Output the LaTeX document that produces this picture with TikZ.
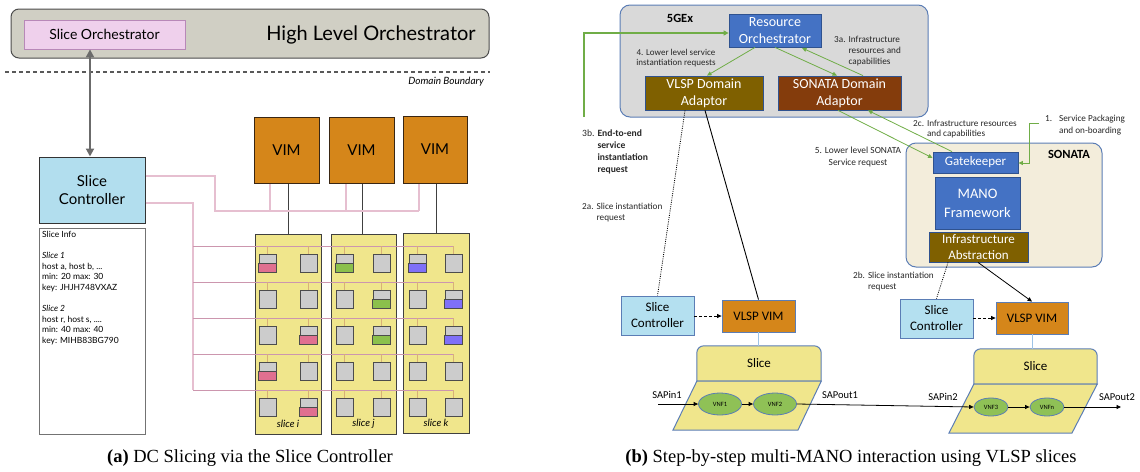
\documentclass[tikz,border=0pt]{standalone}
\usepackage{fontspec}
\setmainfont{Liberation Serif}
\newfontfamily\gillf{Lato}
\newfontfamily\calf{Carlito}
\usetikzlibrary{arrows.meta,shapes.geometric}
\newcommand{\fsz}[2]{\fontsize{#1}{#2}\selectfont}

\definecolor{hlogray}{HTML}{D0CFC4}
\definecolor{sopink}{HTML}{EFD0EC}
\definecolor{sopinkb}{HTML}{B888B8}
\definecolor{scblue}{HTML}{B2DEEE}
\definecolor{vimor}{HTML}{D5861A}
\definecolor{khaki}{HTML}{F0E68C}
\definecolor{hostgray}{HTML}{CCCCCC}
\definecolor{slpink}{HTML}{E07090}
\definecolor{slgreen}{HTML}{8BC04C}
\definecolor{slpurple}{HTML}{7F70F8}
\definecolor{trunkpink}{HTML}{E6BFD0}
\definecolor{buspink}{HTML}{CC96AE}
\definecolor{stubtan}{HTML}{D8B078}
\definecolor{gexgray}{HTML}{D9D9D9}
\definecolor{frameblue}{HTML}{5B7DB5}
\definecolor{msblue}{HTML}{4472C4}
\definecolor{msblueb}{HTML}{2F528F}
\definecolor{olive}{HTML}{7F6000}
\definecolor{rust}{HTML}{843C0C}
\definecolor{sonbeige}{HTML}{F3EDDB}
\definecolor{msgreen}{HTML}{70AD47}
\definecolor{vnfgreen}{HTML}{8FC156}
\definecolor{sliceyel}{HTML}{F0E68C}
\definecolor{linkblue}{HTML}{9DC3E6}
\definecolor{scblueb}{HTML}{B4E0F0}

\tikzset{
  hostbox/.style={draw=black!70, fill=hostgray, line width=0.8pt, minimum width=17pt, minimum height=18pt, inner sep=0pt},
  colbox/.style={draw=black!75, fill=khaki, line width=1pt, inner sep=0pt},
  vimbox/.style={draw=black!70!brown, fill=vimor, line width=1pt, inner sep=0pt, minimum width=65pt, minimum height=66pt, font=\gillf\fsz{15}{18}},
  trunk/.style={draw=trunkpink, line width=1.1pt},
  busline/.style={draw=buspink, line width=0.8pt},
  stubline/.style={draw=stubtan, line width=0.9pt},
  msbox/.style={draw=msblueb, line width=0.8pt, text=white, align=center, inner sep=0pt, font=\calf\fsz{14}{17}},
  lbl/.style={font=\calf\fsz{9.2}{11}, inner sep=0pt, text=black!85},
  garrow/.style={draw=msgreen, line width=0.8pt, -{Triangle[length=4.5pt,width=4pt]}},
  darrow/.style={draw=black, line width=0.8pt, dash pattern=on 3pt off 2pt, -{Triangle[length=4.5pt,width=4pt]}},
  dotline/.style={draw=black, line width=0.8pt, dash pattern=on 1pt off 1.2pt},
  flowarrow/.style={draw=black, line width=0.8pt, -{Triangle[length=4.5pt,width=4pt]}},
  slicefill/.style={draw=frameblue, fill=sliceyel, line width=1pt},
  vnf/.style={ellipse, draw=frameblue, fill=vnfgreen, line width=0.8pt, inner sep=0pt, font=\calf\fsz{6.5}{8}},
  bsc/.style={draw=frameblue, fill=scblueb, line width=0.8pt, align=center, inner sep=0pt, font=\calf\fsz{13}{16}, minimum width=73pt, minimum height=39pt},
  bvim/.style={draw=frameblue, fill=vimor, line width=0.8pt, inner sep=0pt, font=\calf\fsz{13}{16}, minimum width=73pt, minimum height=32pt},
}

\begin{document}
\begin{tikzpicture}[x=1pt,y=-1pt]
\useasboundingbox (0,0) rectangle (1140,471);

% ================= (a) DC slicing =================
\node[draw=black!70, fill=hlogray, rounded corners=8pt, line width=1pt, minimum width=478pt, minimum height=49pt] (hlo) at (250,33.5) {};
\node[font=\gillf\fsz{20}{23}] (hlot) at (371,35) {High Level Orchestrator};
\node[draw=sopinkb, fill=sopink, line width=0.8pt, minimum width=161pt, minimum height=29pt, font=\gillf\fsz{14}{16}] (so) at (104.5,34.5) {Slice Orchestrator};

% domain boundary
\coordinate (db1) at (5,72);
\coordinate (db2) at (490,72);
\draw[draw=black!65, line width=1.2pt, dash pattern=on 4pt off 3pt] (db1) -- (db2);
\node[font=\gillf\itshape\fsz{10}{12}, anchor=east, inner sep=0pt] (dbt) at (484,82) {Domain Boundary};

% slice controller and info
\node[draw=black!80, fill=scblue, line width=1pt, minimum width=106pt, minimum height=66pt, align=center, font=\gillf\fsz{15}{18.5}] (sc) at (92,190) {Slice\\Controller};
\node[draw=black!55, fill=white, line width=1pt, minimum width=106pt, minimum height=206pt] (info) at (92,331) {};
\node[anchor=north west, inner sep=0pt, align=left, font=\gillf\fsz{8.5}{10.6}] (infot) at (42,231)
  {Slice Info\\[10.6pt]\textit{Slice 1}\\host a, host b, ...\\min: 20 max: 30\\key: JHJH748VXAZ\\[10.6pt]\textit{Slice 2}\\host r, host s, ....\\min: 40 max: 40\\key: MIHB83BG790};

\draw[draw=black!58, line width=2.5pt, {Triangle[length=8pt,width=8pt]}-{Triangle[length=8pt,width=8pt]}] (so.south -| 90,0) -- (sc.north -| 90,0);

% slice columns
\node[colbox, minimum width=66pt, minimum height=200pt] (col1) at (288,334) {};
\node[colbox, minimum width=65pt, minimum height=200pt] (col2) at (363.5,334) {};
\node[colbox, minimum width=66pt, minimum height=200pt] (col3) at (436,333) {};

% VIMs
\node[vimbox] (vim1) at (286.5,150) {VIM};
\node[vimbox] (vim2) at (361.5,150) {VIM};
\node[vimbox, minimum width=64pt, minimum height=67pt] (vim3) at (435,149.5) {VIM};

% VIM to slice column links
\draw[draw=black!75, line width=1pt] (col1.north) -- (col1.north |- vim1.south);
\draw[draw=black!75, line width=1pt] (col2.north -| 362,0) -- (vim2.south -| 362,0);
\draw[draw=black!75, line width=1pt] (col3.north) -- (col3.north |- vim3.south);

% controller to VIMs
\coordinate (ta) at (215,211);
\draw[trunk] (sc.east |- 0,176) -- (215,176) -- (ta) -- (419,211);
\draw[trunk] (270,211) -- (vim1.south -| 270,0);
\draw[trunk] (346,211) -- (vim2.south -| 346,0);
\draw[trunk] (419,211) -- (vim3.south -| 419,0);

% controller to hosts
\coordinate (tb) at (193,390);
\draw[trunk] (sc.east |- 0,203) -- (193,203) -- (tb);
\foreach \yy in {246,282,318,354,390}
  \draw[busline] (193,\yy) -- (453.5,\yy);

% hosts
\foreach \ci/\xa/\xb in {1/267.5/308.5, 2/344.5/381.5, 3/417.5/453.5} {
  \foreach \ri/\yy in {1/263,2/299,3/335,4/371,5/407} {
    \draw[stubline] (\xa,\yy-9) -- ++(0,-8);
    \draw[stubline] (\xb,\yy-9) -- ++(0,-8);
    \node[hostbox] (h\ci\ri a) at (\xa,\yy) {};
    \node[hostbox] (h\ci\ri b) at (\xb,\yy) {};
  }
}
\foreach \hn/\hc in {h11a/slpink, h13b/slpink, h14a/slpink, h15b/slpink,
                     h21a/slgreen, h22b/slgreen, h23b/slgreen,
                     h31a/slpurple, h32b/slpurple, h33b/slpurple}
  \filldraw[fill=\hc, draw=black!70, line width=0.8pt] (\hn.south west) rectangle ([yshift=-0.5pt]\hn.east);

\node[font=\gillf\itshape\fsz{10}{12}] (li) at (288,424) {slice i};
\node[font=\gillf\itshape\fsz{10}{12}] (lj) at (363.5,424) {slice j};
\node[font=\gillf\itshape\fsz{10}{12}] (lk) at (436,423) {slice k};

% ================= (b) multi-MANO =================
\node[draw=frameblue, fill=gexgray, rounded corners=10pt, line width=1pt, minimum width=308pt, minimum height=112pt] (gex) at (774,61) {};
\node[font=\calf\bfseries\fsz{12.5}{14}] (gext) at (680,18) {5GEx};

\node[draw=frameblue, fill=sonbeige, rounded corners=10pt, line width=1pt, minimum width=196pt, minimum height=124pt] (son) at (1004,205) {};
\node[font=\calf\bfseries\fsz{12.5}{14}] (sont) at (1069,154) {SONATA};

\node[msbox, fill=msblue, minimum width=92pt, minimum height=33pt] (ro) at (775,30.5) {Resource\\Orchestrator};
\node[msbox, fill=olive, minimum width=118pt, minimum height=34pt] (vda) at (704,93) {VLSP Domain\\Adaptor};
\node[msbox, fill=rust, minimum width=123pt, minimum height=34pt] (sda) at (839.5,93) {SONATA Domain\\Adaptor};

\node[msbox, fill=msblue, minimum width=85pt, minimum height=21pt, font=\calf\fsz{13}{15}] (gk) at (975.5,162.5) {Gatekeeper};
\node[msbox, fill=msblue, minimum width=85pt, minimum height=52pt, font=\calf\fsz{14.5}{19}] (mano) at (977.5,203) {MANO\\Framework};
\node[msbox, fill=olive, minimum width=99pt, minimum height=30pt, font=\calf\fsz{13}{16}] (ia) at (978.5,247) {Infrastructure\\Abstraction};

% green request arrows inside 5GEx
\draw[garrow] (ro.south -| 755,0) -- (vda.north -| 707,0);
\draw[garrow] (ro.south -| 775,0) -- (sda.north -| 837,0);
\draw[garrow] (sda.north -| 863,0) -- (802,48);
\draw[draw=msgreen, line width=1.5pt, -{Triangle[length=5pt,width=5pt]}] (584,117) -- (584,33) -- (ro.west |- 0,33);

% green arrows between SONATA adaptor and gatekeeper
\draw[garrow] (sda.south -| 838,0) -- (gk.west |- 0,158);
\draw[garrow] (gk.north -| 952,0) -- (sda.south -| 868,0);
\coordinate (s1) at (1039,123);
\draw[garrow] (s1) -- (1029,123) -- (1029,163) -- (gk.east |- 0,163);

% labels
\node[lbl, align=center, font=\calf\fsz{9}{10.5}] (l4) at (676,58) {4. Lower level service\\instantiation requests};
\node[lbl, anchor=north west] (l3a) at (834,34.5) {\begin{tabular}{@{}l@{\hspace{3pt}}l@{}}3a.&Infrastructure\\&resources and\\&capabilities\end{tabular}};
\node[lbl, anchor=north west, font=\calf\fsz{9.6}{12}] (l3b) at (582,127.5) {\begin{tabular}{@{}l@{\hspace{3pt}}l@{}}3b.&\textbf{End-to-end}\\&\textbf{service}\\&\textbf{instantiation}\\&\textbf{request}\end{tabular}};
\node[lbl, anchor=north west] (l2a) at (582,201.5) {\begin{tabular}{@{}l@{\hspace{3pt}}l@{}}2a.&Slice instantiation\\&request\end{tabular}};
\node[lbl, anchor=north west] (l2b) at (853,270.5) {\begin{tabular}{@{}l@{\hspace{3pt}}l@{}}2b.&Slice instantiation\\&request\end{tabular}};
\node[lbl, anchor=north west, font=\calf\fsz{9.2}{10.5}] (l2c) at (913,118.5) {\begin{tabular}{@{}l@{\hspace{3pt}}l@{}}2c.&Infrastructure resources\\&and capabilities\end{tabular}};
\node[lbl, align=center, font=\calf\fsz{9.4}{12}] (l5) at (858,157) {5. Lower level SONATA\\Service request};
\node[lbl, anchor=north west, font=\calf\fsz{9.2}{12}] (l1) at (1045,112.5) {\begin{tabular}{@{}l@{\hspace{7pt}}l@{}}1.&Service Packaging\\&and on-boarding\end{tabular}};

% left VLSP site
\node[bsc] (sca) at (657.5,315.5) {Slice\\Controller};
\node[bvim] (vima) at (758.5,316) {VLSP VIM};
\draw[dotline] (vda.south -| 685,0) -- (sca.north);
\draw[draw=black, line width=0.9pt] (vda.south -| 705,0) -- (vima.north);
\draw[darrow] (sca.east |- vima.center) -- (vima.west);

\node[minimum width=124pt, minimum height=35pt, inner sep=0pt] (sla) at (759,363.5) {};
\filldraw[slicefill] (sla.south west) [rounded corners=7pt]-- (sla.north west) -- (sla.north east) [sharp corners]-- (sla.south east) -- cycle;
\node[font=\calf\fsz{13}{16}] (slat) at (sla.center) {Slice};
\draw[draw=linkblue, line width=1pt] (vima.south) -- (vima.south |- sla.north);
\coordinate (pa1) at (673,430);
\coordinate (pa2) at (798,430);
\filldraw[slicefill] (pa1) -- (sla.south west) -- (sla.south east) -- (pa2) -- cycle;

% right VLSP site
\node[bsc] (scb) at (936.5,318.5) {Slice\\Controller};
\node[bvim, minimum width=72pt] (vimb) at (1032,318) {VLSP VIM};
\draw[dotline] (ia.south -| 948,0) -- (scb.north);
\draw[flowarrow] (ia.south -| 978,0) -- (vimb.north);
\draw[darrow] (scb.east |- vimb.center) -- (vimb.west);

\node[minimum width=123pt, minimum height=35pt, inner sep=0pt] (slb) at (1035.5,366.5) {};
\filldraw[slicefill] (slb.south west) [rounded corners=7pt]-- (slb.north west) -- (slb.north east) [sharp corners]-- (slb.south east) -- cycle;
\node[font=\calf\fsz{13}{16}] (slbt) at (slb.center) {Slice};
\draw[draw=linkblue, line width=1pt] (vimb.south) -- (vimb.south |- slb.north);
\coordinate (pb1) at (949,433);
\coordinate (pb2) at (1072,433);
\filldraw[slicefill] (pb1) -- (slb.south west) -- (slb.south east) -- (pb2) -- cycle;

% VNF chains
\node[vnf, minimum width=43pt, minimum height=22pt] (vnf1) at (720,404) {VNF1};
\node[vnf, minimum width=43pt, minimum height=22pt] (vnf2) at (775,404) {VNF2};
\node[vnf, minimum width=34pt, minimum height=18pt] (vnf3) at (991,407) {VNF3};
\node[vnf, minimum width=34pt, minimum height=18pt] (vnfn) at (1047,407) {VNFn};

\coordinate (sapin1) at (658,404);
\coordinate (sapout2) at (1121,407);
\draw[flowarrow] (sapin1) -- (vnf1.west);
\draw[flowarrow] (vnf1.east) -- (vnf2.west);
\draw[flowarrow] (vnf2.east) -- (vnf3.west);
\draw[flowarrow] (vnf3.east) -- (vnfn.west);
\draw[flowarrow] (vnfn.east) -- (sapout2);

\node[font=\calf\fsz{10.5}{12}] (tin1) at (667,395) {SAPin1};
\node[font=\calf\fsz{10.5}{12}] (tout1) at (840,395) {SAPout1};
\node[font=\calf\fsz{10.5}{12}] (tin2) at (943,397) {SAPin2};
\node[font=\calf\fsz{10.5}{12}] (tout2) at (1117,397) {SAPout2};

% captions
\node[font=\fsz{18.5}{21}] (capa) at (250,458) {\textbf{(a)} DC Slicing via the Slice Controller};
\node[font=\fsz{18.5}{21}] (capb) at (851,458) {\textbf{(b)} Step-by-step multi-MANO interaction using VLSP slices};
\end{tikzpicture}
\end{document}
